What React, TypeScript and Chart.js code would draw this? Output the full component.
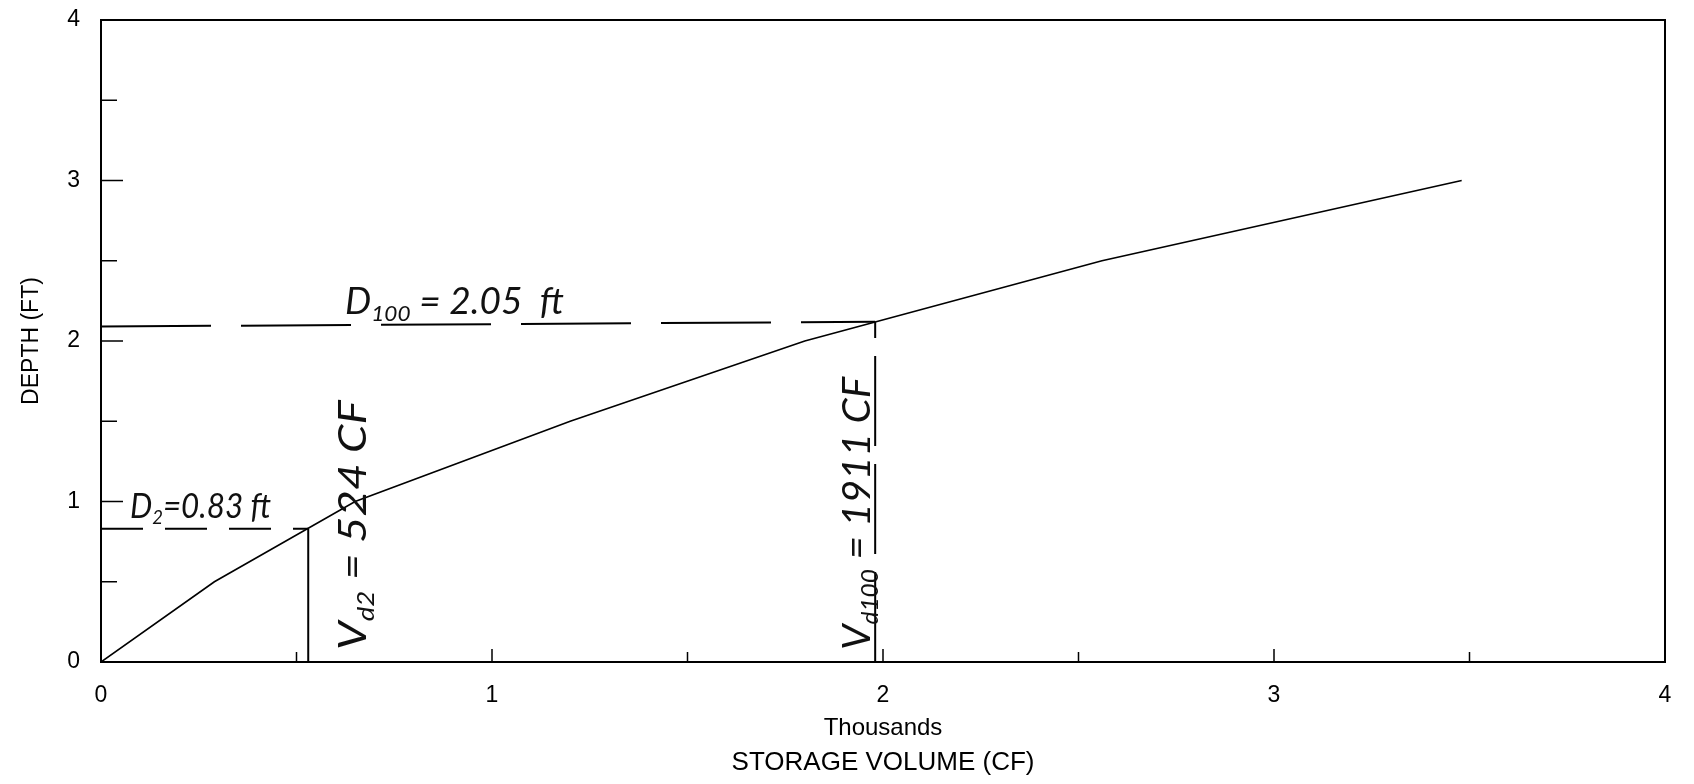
import React, { useEffect, useRef } from 'react';
import { Chart, registerables } from 'chart.js';

Chart.register(...registerables);

// ---- data (thousands of CF vs ft) ----
const volumeThousands = [0, 0.29, 0.65, 1.2, 1.8, 2.56, 3.48];
const depthFt = [0, 0.5, 1.0, 1.5, 2.0, 2.5, 3.0];

// design points
const d2Depth = 0.83;
const vd2Volume = 0.53;
const d100DepthStart = 2.09;
const d100Depth = 2.12;
const vd100Volume = 1.98;

// axes
const xMajorTicks = [0, 1, 2, 3, 4];
const xMinorTicks = [0.5, 1.5, 2.5, 3.5];
const yMajorTicks = [0, 1, 2, 3, 4];
const yMinorTicks = [0.5, 1.5, 2.5, 3.5];
const xUnitLabel = 'Thousands';
const xTitle = 'STORAGE VOLUME (CF)';
const yTitle = 'DEPTH (FT)';

// handwritten notes: [text, isSubscript]
const noteD100: [string, boolean][] = [['D', false], ['100', true], [' = 2.05  ft', false]];
const noteD2: [string, boolean][] = [['D', false], ['2', true], ['=0.83 ft', false]];
const noteVd2: [string, boolean][] = [['V', false], ['d2', true], [' = 524 CF', false]];
const noteVd100: [string, boolean][] = [['V', false], ['d100', true], [' = 1911 CF', false]];

const HAND_FONT = 'Lato, "DejaVu Sans", sans-serif';
const AXIS_FONT = '"Liberation Sans", Arial, sans-serif';

function drawNote(
  ctx: CanvasRenderingContext2D,
  parts: [string, boolean][],
  x: number,
  y: number,
  length: number,
  size: number,
  rotation: number
) {
  ctx.save();
  const fontFor = (sub: boolean) => `italic 400 ${sub ? Math.round(size * 0.6) : size}px ${HAND_FONT}`;
  let natural = 0;
  for (const [t, sub] of parts) {
    ctx.font = fontFor(sub);
    natural += ctx.measureText(t).width;
  }
  const sx = length / natural;
  ctx.translate(x, y);
  ctx.rotate(rotation);
  ctx.scale(sx, 1);
  ctx.fillStyle = '#111';
  ctx.textBaseline = 'alphabetic';
  ctx.textAlign = 'left';
  let cx = 0;
  for (const [t, sub] of parts) {
    ctx.font = fontFor(sub);
    ctx.fillText(t, cx, sub ? size * 0.2 : 0);
    cx += ctx.measureText(t).width;
  }
  ctx.restore();
}

const framePlugin = {
  id: 'frameAndNotes',
  afterDatasetsDraw(chart: any) {
    const { ctx, chartArea: a, scales } = chart;
    const xs = scales.x;
    const ys = scales.y;
    ctx.save();
    ctx.strokeStyle = '#000';
    ctx.lineWidth = 2;
    ctx.strokeRect(a.left, a.top, a.right - a.left, a.bottom - a.top);
    ctx.lineWidth = 1.5;
    ctx.beginPath();
    for (const v of yMajorTicks) {
      const p = ys.getPixelForValue(v);
      ctx.moveTo(a.left, p);
      ctx.lineTo(a.left + 22, p);
    }
    for (const v of yMinorTicks) {
      const p = ys.getPixelForValue(v);
      ctx.moveTo(a.left, p);
      ctx.lineTo(a.left + 16, p);
    }
    for (const v of xMajorTicks) {
      const p = xs.getPixelForValue(v);
      ctx.moveTo(p, a.bottom);
      ctx.lineTo(p, a.bottom - 13);
    }
    for (const v of xMinorTicks) {
      const p = xs.getPixelForValue(v);
      ctx.moveTo(p, a.bottom);
      ctx.lineTo(p, a.bottom - 10);
    }
    ctx.stroke();

    // unit label above the axis title
    ctx.fillStyle = '#000';
    ctx.font = `24px ${AXIS_FONT}`;
    ctx.textAlign = 'center';
    ctx.textBaseline = 'middle';
    ctx.fillText(xUnitLabel, (a.left + a.right) / 2, a.bottom + 66);
    ctx.restore();

    const X = (v: number) => xs.getPixelForValue(v);
    const Y = (v: number) => ys.getPixelForValue(v);
    drawNote(ctx, noteD100, X(0.624), Y(2.17), X(1.184) - X(0.624), 36, 0);
    drawNote(ctx, noteD2, X(0.074), Y(0.9), X(0.435) - X(0.074), 34, 0);
    drawNote(ctx, noteVd2, X(0.678), Y(0.075), Y(0.075) - Y(1.63), 38, -Math.PI / 2);
    drawNote(ctx, noteVd100, X(1.967), Y(0.075), Y(0.075) - Y(1.776), 38, -Math.PI / 2);
  },
};

export default function App() {
  const ref = useRef<HTMLCanvasElement | null>(null);

  useEffect(() => {
    if (!ref.current) return;
    const curve = volumeThousands.map((v, i) => ({ x: v, y: depthFt[i] }));
    const lineStyle = { showLine: true, pointRadius: 0, borderColor: '#000', backgroundColor: '#000', tension: 0, fill: false };
    const chart = new Chart(ref.current, {
      type: 'scatter',
      data: {
        datasets: [
          { ...lineStyle, label: 'curve', data: curve, borderWidth: 1.6 },
          { ...lineStyle, label: 'D2', data: [{ x: 0, y: d2Depth }, { x: vd2Volume, y: d2Depth }], borderWidth: 2, borderDash: [42, 22] },
          { ...lineStyle, label: 'Vd2', data: [{ x: vd2Volume, y: 0 }, { x: vd2Volume, y: d2Depth }], borderWidth: 2 },
          { ...lineStyle, label: 'D100', data: [{ x: 0, y: d100DepthStart }, { x: vd100Volume, y: d100Depth }], borderWidth: 2, borderDash: [110, 30] },
          { ...lineStyle, label: 'Vd100', data: [{ x: vd100Volume, y: 0 }, { x: vd100Volume, y: d100Depth }], borderWidth: 2, borderDash: [90, 18] },
        ],
      },
      options: {
        animation: false,
        responsive: true,
        maintainAspectRatio: false,
        layout: { padding: { left: 0, right: 29, top: 20, bottom: 0 } },
        plugins: { legend: { display: false }, tooltip: { enabled: false } },
        scales: {
          x: {
            type: 'linear',
            min: 0,
            max: 4,
            grid: { display: false, drawTicks: false },
            border: { display: false },
            ticks: { stepSize: 1, color: '#000', padding: 20, font: { family: AXIS_FONT, size: 23 } },
            title: {
              display: true,
              text: xTitle,
              color: '#000',
              padding: { top: 0, bottom: 6 },
              font: { family: AXIS_FONT, size: 26 },
            },
            afterFit: (s: any) => { s.height = 122; s.paddingLeft = 0; s.paddingRight = 0; },
          },
          y: {
            type: 'linear',
            min: 0,
            max: 4,
            grid: { display: false, drawTicks: false },
            border: { display: false },
            ticks: { stepSize: 1, color: '#000', padding: 21, font: { family: AXIS_FONT, size: 23 } },
            title: {
              display: true,
              text: yTitle,
              color: '#000',
              padding: { top: 18, bottom: 0 },
              font: { family: AXIS_FONT, size: 23 },
            },
            afterFit: (s: any) => { s.width = 101; s.paddingTop = 0; s.paddingBottom = 0; },
          },
        },
      },
      plugins: [framePlugin],
    });
    return () => chart.destroy();
  }, []);

  return (
    <div style={{ position: 'absolute', left: 0, top: 0, width: 1694, height: 784, background: '#fff' }}>
      <canvas ref={ref} />
    </div>
  );
}
